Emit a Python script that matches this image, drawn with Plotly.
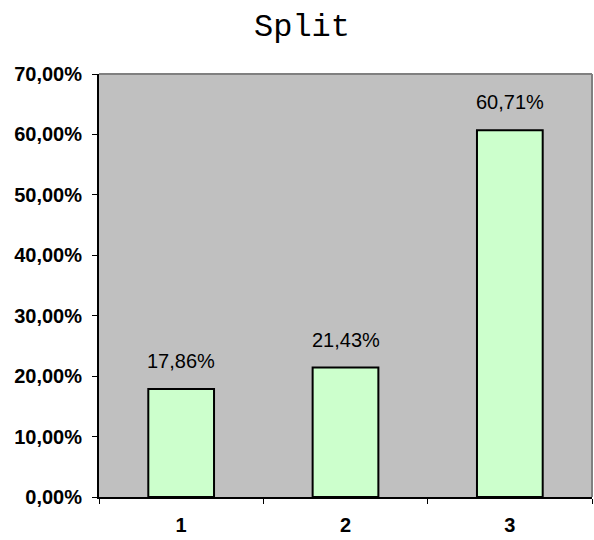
import plotly.graph_objects as go

categories = ["1", "2", "3"]
values = [0.1786, 0.2143, 0.6071]
value_labels = ["17,86%", "21,43%", "60,71%"]
title_text = "Split"

fig = go.Figure()
fig.add_trace(go.Bar(
    x=categories, y=values, width=0.4,
    marker=dict(color="#CCFFCC", line=dict(color="black", width=2)),
    hoverinfo="skip",
))

for i, (v, t) in enumerate(zip(values, value_labels)):
    fig.add_annotation(x=i, y=v, text=t, showarrow=False, yanchor="bottom",
                       yshift=15, font=dict(family="Liberation Sans, Arial", size=20, color="black"))

# top and right gray border of plot area
fig.add_shape(type="line", xref="paper", yref="paper", x0=0, x1=1, y0=1, y1=1,
              line=dict(color="#808080", width=2))
fig.add_shape(type="line", xref="paper", yref="paper", x0=1, x1=1, y0=0, y1=1,
              line=dict(color="#808080", width=2))

fig.update_layout(
    width=594, height=540,
    margin=dict(l=99, r=2, t=74, b=43),
    paper_bgcolor="white", plot_bgcolor="#C0C0C0",
    separators=",.",
    showlegend=False,
    title=dict(text=title_text, x=302/594, xanchor="center", y=1-25/540, yanchor="middle",
               font=dict(family="Liberation Mono, Courier New", size=32, color="black")),
    font=dict(family="Liberation Sans, Arial", color="black"),
    xaxis=dict(type="category", showline=True, linecolor="black", linewidth=2,
               ticks="outside", tickson="boundaries", ticklen=5, tickcolor="black",
               showgrid=False, automargin=False,
               tickfont=dict(size=20, family="Liberation Sans, Arial", weight="bold"),
               ticklabelstandoff=9),
    yaxis=dict(range=[0, 0.7], dtick=0.1, tickformat=".2%", showline=True, linecolor="black",
               linewidth=2, ticks="outside", ticklen=5, tickcolor="black", showgrid=False,
               zeroline=False, automargin=False,
               tickfont=dict(size=20, family="Liberation Sans, Arial", weight="bold"),
               ticklabelstandoff=6),
)

fig.write_html("out.html", config={"displayModeBar": False},
               post_script="document.body.style.margin='0';document.body.style.overflow='hidden';")
